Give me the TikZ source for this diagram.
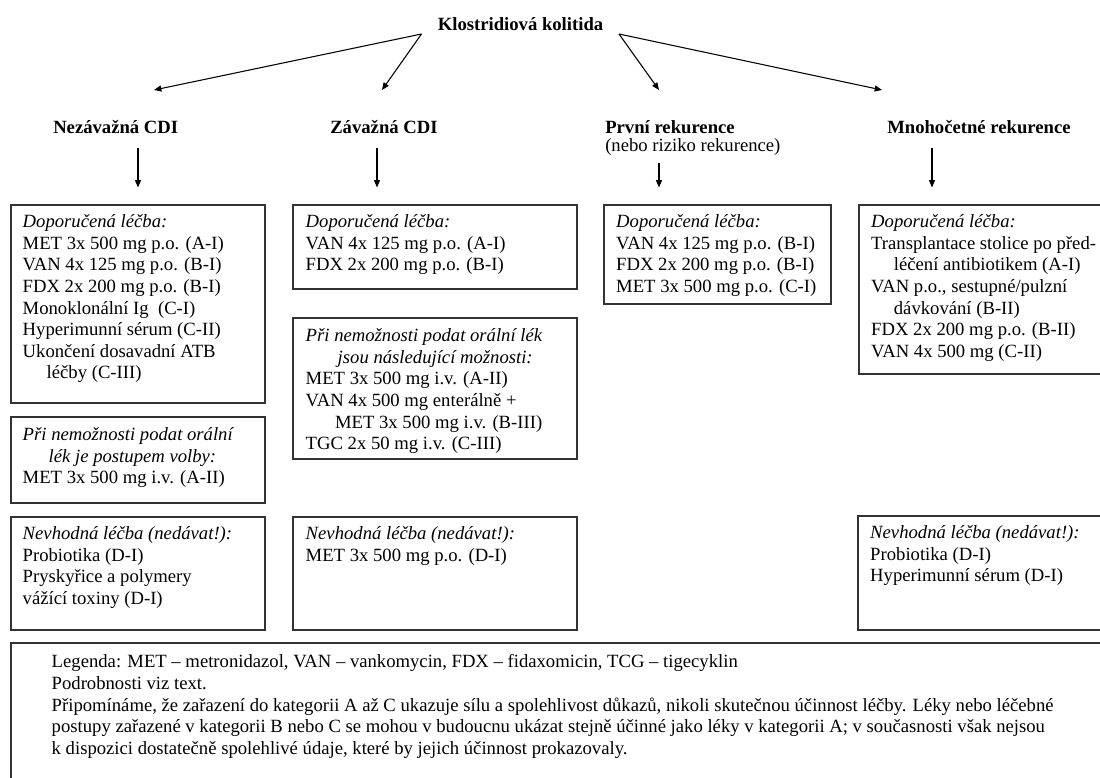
\documentclass[tikz,border=0pt]{standalone}
\usepackage{fontspec}
\setmainfont{Liberation Serif}
\usepackage{tikz}
\usetikzlibrary{arrows.meta,positioning,calc,fit}
\newcommand{\boxfont}{\fontsize{14}{16.2}\selectfont}
\tikzset{
  frame/.style={draw=black!80, line width=0.8pt, inner sep=0pt},
  txt/.style={anchor=north west, align=left, inner sep=0pt, font=\boxfont},
  head/.style={font=\boxfont\bfseries, inner sep=0pt},
  note/.style={font=\boxfont, inner sep=0pt},
  arr/.style={-{Triangle[length=5.5pt,width=4.5pt]}, line width=0.8pt}}

\begin{document}
\begin{tikzpicture}[x=0.75pt, y=-0.75pt]
  \useasboundingbox (0,0) rectangle (1100,778);
  % title and the four groups
  \node[head] (kk) at (520.5,24) {Klostridiová kolitida};
  \node[head, anchor=west] (h1) at (53,127) {Nezávažná CDI};
  \node[head, anchor=west] (h2) at (330,127) {Závažná CDI};
  \node[head, anchor=west] (h3) at (605,127) {První rekurence};
  \node[note, anchor=west] (h3n) at (605,147) {(nebo riziko rekurence)};
  \node[head, anchor=west] (h4) at (887,127) {Mnohočetné rekurence};
  \coordinate (kl) at (421.5,34); \coordinate (kr) at (619,34);
  \coordinate (a1) at (154,90); \coordinate (a2) at (382,90);
  \coordinate (a3) at (659,90); \coordinate (a4) at (882,90);
  \draw[arr] (kl) -- (a1); \draw[arr] (kl) -- (a2);
  \draw[arr] (kr) -- (a3); \draw[arr] (kr) -- (a4);

  % frames
  \node[frame, fit={(11,205) (265,403)}] (r1) {};
  \node[frame, fit={(11,417) (265,503)}] (o1) {};
  \node[frame, fit={(11,517) (265,630)}] (n1) {};
  \node[frame, fit={(293,205) (577,289)}] (r2) {};
  \node[frame, fit={(293,318) (577,459)}] (o2) {};
  \node[frame, fit={(293,517) (577,630)}] (n2) {};
  \node[frame, fit={(604,205) (831,304)}] (r3) {};
  \node[frame, fit={(859,205) (1110,374)}] (r4) {};
  \node[frame, fit={(858,516) (1110,630)}] (n4) {};
  \node[frame, fit={(11,643) (1110,790)}] (leg) {};

  \coordinate (d1) at (138,148); \coordinate (d2) at (377,148);
  \coordinate (d3) at (659,163); \coordinate (d4) at (932,148);
  \draw[arr, shorten >=12.75pt] (d1) -- (d1 |- r1.north);
  \draw[arr, shorten >=12.75pt] (d2) -- (d2 |- r2.north);
  \draw[arr, shorten >=12.75pt] (d3) -- (d3 |- r3.north);
  \draw[arr, shorten >=12.75pt] (d4) -- (d4 |- r4.north);

  % box texts
  \node[txt] (r1t) at ($(r1.north west)+(12,10)$) {\textit{Doporučená léčba:}\\
    MET 3x 500 mg p.o. (A-I)\\VAN 4x 125 mg p.o. (B-I)\\FDX 2x 200 mg p.o. (B-I)\\
    Monoklonální Ig~ (C-I)\\Hyperimunní sérum (C-II)\\Ukončení dosavadní ATB\\
    \hspace*{18pt}léčby (C-III)};
  \node[txt] (o1t) at ($(o1.north west)+(12,11)$) {\textit{Při nemožnosti podat orální}\\
    \hspace*{19.5pt}\textit{lék je postupem volby:}\\MET 3x 500 mg i.v. (A-II)};
  \node[txt] (n1t) at ($(n1.north west)+(12,10)$) {\textit{Nevhodná léčba (nedávat!):}\\
    Probiotika (D-I)\\Pryskyřice a polymery\\vážící toxiny (D-I)};
  \node[txt] (r2t) at ($(r2.north west)+(13,10)$) {\textit{Doporučená léčba:}\\
    VAN 4x 125 mg p.o. (A-I)\\FDX 2x 200 mg p.o. (B-I)};
  \node[txt] (o2t) at ($(o2.north west)+(13,11)$) {\textit{Při nemožnosti podat orální lék}\\
    \hspace*{24pt}\textit{jsou následující možnosti:}\\MET 3x 500 mg i.v. (A-II)\\
    VAN 4x 500 mg enterálně +\\\hspace*{22pt}MET 3x 500 mg i.v. (B-III)\\
    TGC 2x 50 mg i.v. (C-III)};
  \node[txt] (n2t) at ($(n2.north west)+(13,10)$) {\textit{Nevhodná léčba (nedávat!):}\\
    MET 3x 500 mg p.o. (D-I)};
  \node[txt] (r3t) at ($(r3.north west)+(12.5,10)$) {\textit{Doporučená léčba:}\\
    VAN 4x 125 mg p.o. (B-I)\\FDX 2x 200 mg p.o. (B-I)\\MET 3x 500 mg p.o. (C-I)};
  \node[txt] (r4t) at ($(r4.north west)+(12.5,10)$) {\textit{Doporučená léčba:}\\
    Transplantace stolice po před-\\\hspace*{17pt}léčení antibiotikem (A-I)\\
    VAN p.o., sestupné/pulzní\\\hspace*{17pt}dávkování (B-II)\\
    FDX 2x 200 mg p.o. (B-II)\\VAN 4x 500 mg (C-II)};
  \node[txt] (n4t) at ($(n4.north west)+(12.5,10)$) {\textit{Nevhodná léčba (nedávat!):}\\
    Probiotika (D-I)\\Hyperimunní sérum (D-I)};

  % legend
  \node[txt] (legt) at ($(leg.north west)+(41,12)$) {Legenda: MET – metronidazol,
    VAN – vankomycin, FDX – fidaxomicin, TCG – tigecyklin\\Podrobnosti viz text.\\
    Připomínáme, že zařazení do kategorii A až C ukazuje sílu a spolehlivost důkazů,
    nikoli skutečnou účinnost léčby. Léky nebo léčebné\\
    postupy zařazené v kategorii B nebo C se mohou v budoucnu ukázat stejně účinné jako
    léky v kategorii A; v současnosti však nejsou\\
    k dispozici dostatečně spolehlivé údaje, které by jejich účinnost prokazovaly.};
\end{tikzpicture}
\end{document}
